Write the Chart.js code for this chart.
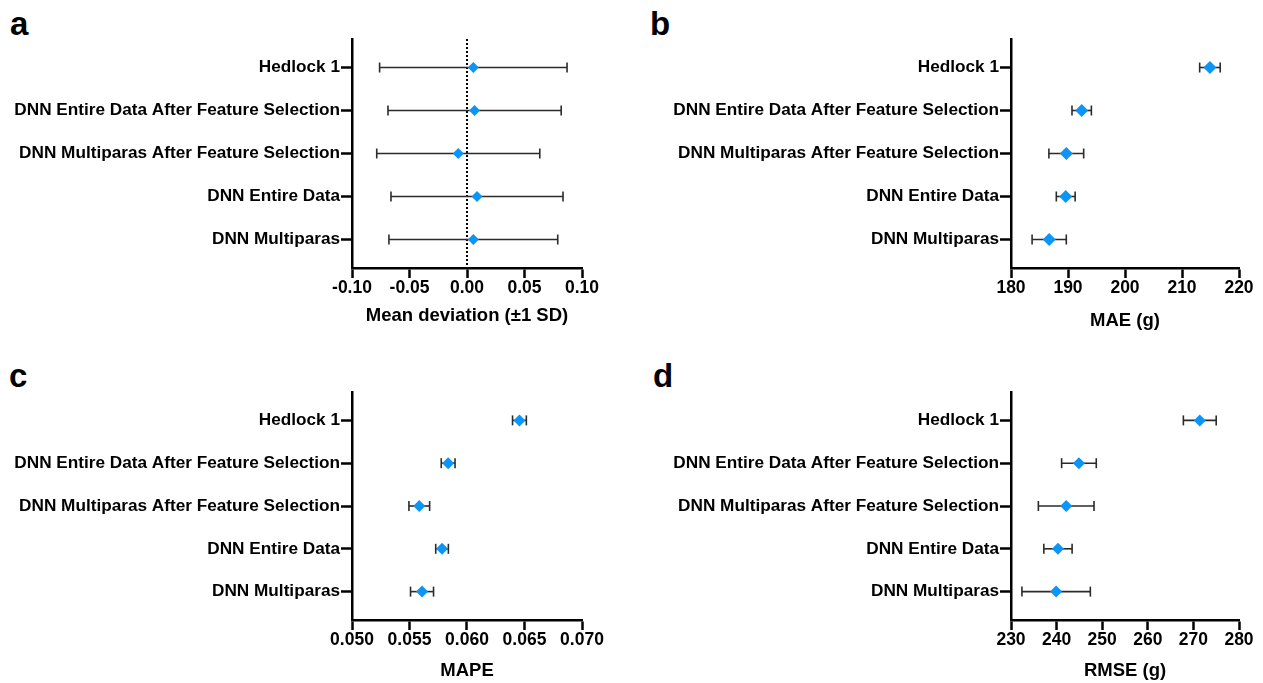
<!DOCTYPE html>
<html>
<head>
<meta charset="utf-8">
<script src="https://cdn.jsdelivr.net/npm/chart.js@4/dist/chart.umd.min.js"></script>
<style>
  body { margin: 0; background: #fff; width: 1263px; height: 683px; overflow: hidden; position: relative; }
  canvas { position: absolute; }
  .letter { position: absolute; font: bold 33px 'Liberation Sans', Arial, sans-serif; line-height: 32px; color: #000; }
</style>
</head>
<body>
<div class="letter" style="left:10px;top:8px">a</div>
<div class="letter" style="left:650px;top:8px">b</div>
<div class="letter" style="left:9px;top:360px">c</div>
<div class="letter" style="left:653px;top:360px">d</div>
<canvas id="chartA" width="631" height="352" style="left:0;top:0"></canvas>
<canvas id="chartB" width="632" height="352" style="left:631px;top:0"></canvas>
<canvas id="chartC" width="631" height="331" style="left:0;top:352px"></canvas>
<canvas id="chartD" width="632" height="331" style="left:631px;top:352px"></canvas>
<script>
const categories = ["Hedlock 1", "DNN Entire Data After Feature Selection", "DNN Multiparas After Feature Selection", "DNN Entire Data", "DNN Multiparas"];

// mean deviation (±1 SD)
const devMean = [0.0055, 0.0066, -0.0076, 0.0087, 0.0055];
const devSd = [0.0815, 0.0753, 0.0709, 0.0748, 0.0734];
const devTicks = [-0.10, -0.05, 0.00, 0.05, 0.10];

// MAE (g)
const maeMean = [214.9, 192.4, 189.7, 189.6, 186.7];
const maeSd = [1.8, 1.7, 3.05, 1.65, 3.0];
const maeTicks = [180, 190, 200, 210, 220];

// MAPE
const mapeMean = [0.06456, 0.05836, 0.05585, 0.05783, 0.05609];
const mapeSd = [0.0006, 0.0006, 0.0009, 0.00055, 0.001];
const mapeTicks = [0.050, 0.055, 0.060, 0.065, 0.070];

// RMSE (g)
const rmseMean = [271.4, 244.9, 242.1, 240.3, 239.9];
const rmseSd = [3.6, 3.8, 6.1, 3.1, 7.5];
const rmseTicks = [230, 240, 250, 260, 270, 280];

Chart.defaults.font.family = "'Liberation Sans', Arial, sans-serif";
Chart.defaults.font.weight = "bold";
Chart.defaults.color = "#000";

const blue = "#0a95f7";
const barColor = "#2b2b2b";
const yMin = -0.663, yMax = 4.663;

function makePanel(id, means, sds, xTicks, cfg) {
  const datasets = [{
    data: means.map((m, i) => ({ x: m, y: i })),
    pointStyle: "rectRot",
    pointRadius: cfg.radius,
    pointHoverRadius: cfg.radius,
    backgroundColor: blue,
    borderWidth: 0
  }];
  means.forEach((m, i) => {
    datasets.push({
      data: [{ x: m - sds[i], y: i }, { x: m + sds[i], y: i }],
      showLine: true,
      borderColor: barColor,
      borderWidth: 1.6,
      pointStyle: "line",
      pointRotation: 90,
      pointRadius: 5,
      pointHoverRadius: 5,
      pointBorderColor: barColor,
      pointBorderWidth: 1.6
    });
  });
  if (cfg.refLine) {
    datasets.push({
      data: [{ x: 0, y: yMin }, { x: 0, y: yMax }],
      showLine: true,
      borderColor: "#000",
      borderWidth: 2,
      borderDash: [2, 2],
      pointRadius: 0
    });
  }

  new Chart(document.getElementById(id), {
    type: "scatter",
    data: { datasets },
    options: {
      responsive: false,
      animation: false,
      events: [],
      plugins: { legend: { display: false }, tooltip: { enabled: false } },
      layout: { padding: { top: cfg.top, right: cfg.right, left: 0, bottom: 0 } },
      scales: {
        x: {
          type: "linear",
          position: "bottom",
          min: xTicks[0],
          max: xTicks[xTicks.length - 1],
          afterBuildTicks: s => { s.ticks = xTicks.map(v => ({ value: v })); },
          afterFit: s => { s.height = cfg.xHeight; },
          ticks: {
            padding: 0,
            autoSkip: false,
            maxRotation: 0,
            font: { size: 17.5, weight: "bold" },
            color: "#000",
            callback: v => v.toFixed(cfg.decimals)
          },
          grid: { drawOnChartArea: false, tickLength: 10, tickWidth: 2.5, tickColor: "#000" },
          border: { color: "#000", width: 2.5 },
          title: {
            display: true,
            text: cfg.title,
            color: "#000",
            font: { size: 18.5, weight: "bold" },
            padding: { top: 0, bottom: cfg.titlePad }
          }
        },
        y: {
          type: "linear",
          reverse: true,
          min: yMin,
          max: yMax,
          afterBuildTicks: s => { s.ticks = categories.map((c, i) => ({ value: i })); },
          afterFit: s => { s.width = cfg.yWidth; },
          ticks: {
            padding: 1,
            autoSkip: false,
            font: { size: 17.2, weight: "bold" },
            color: "#000",
            callback: v => categories[Math.round(v)]
          },
          grid: { drawOnChartArea: false, tickLength: 11, tickWidth: 2.5, tickColor: "#000" },
          border: { color: "#000", width: 2.5 }
        }
      }
    }
  });
}

makePanel("chartA", devMean, devSd, devTicks, {
  title: "Mean deviation (±1 SD)", decimals: 2, radius: 5.5, refLine: true,
  yWidth: 352, right: 49, top: 39, xHeight: 84, titlePad: 25
});
makePanel("chartB", maeMean, maeSd, maeTicks, {
  title: "MAE (g)", decimals: 0, radius: 6.5,
  yWidth: 380, right: 24, top: 39, xHeight: 84, titlePad: 20
});
makePanel("chartC", mapeMean, mapeSd, mapeTicks, {
  title: "MAPE", decimals: 3, radius: 6,
  yWidth: 352, right: 49, top: 40, xHeight: 63, titlePad: 1
});
makePanel("chartD", rmseMean, rmseSd, rmseTicks, {
  title: "RMSE (g)", decimals: 0, radius: 6,
  yWidth: 380, right: 24, top: 40, xHeight: 63, titlePad: 1
});
</script>
</body>
</html>
